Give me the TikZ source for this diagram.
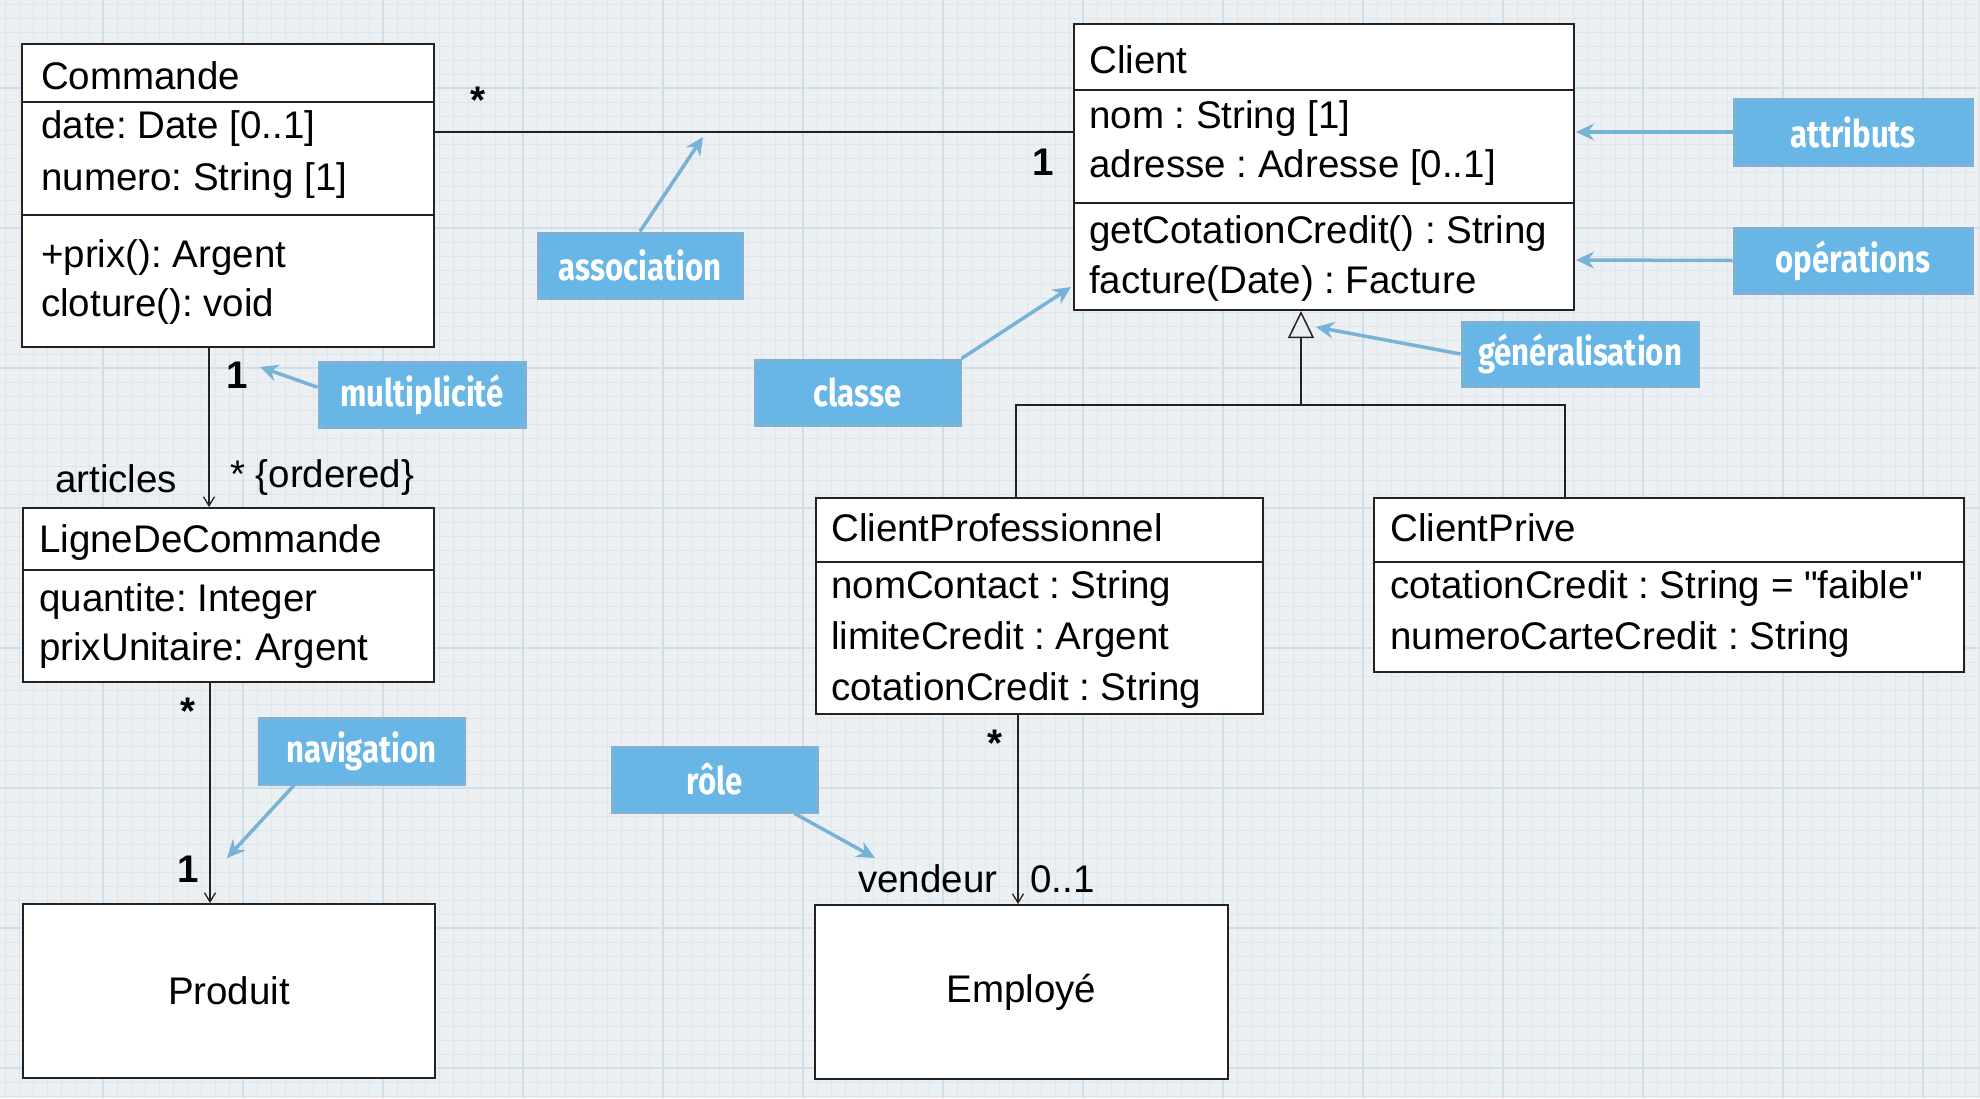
\documentclass[tikz,border=0pt]{standalone}
\usepackage{fontspec}
\usepackage{graphicx}
\newfontfamily\umlfont{Liberation Sans}
\newfontfamily\callfont{Fira Sans}
\usetikzlibrary{arrows.meta,calc}
\definecolor{paper}{HTML}{ECF0F3}
\definecolor{gridminor}{HTML}{DDE6EC}
\definecolor{gridmajor}{HTML}{CFDFE9}
\definecolor{callfill}{HTML}{68B6E6}
\definecolor{calldraw}{HTML}{7DB1D6}
\definecolor{callarrow}{HTML}{78B2D6}
\definecolor{ink}{HTML}{222222}
\newcommand\calltext[1]{\scalebox{0.82}[1]{#1}}
\newcommand\umlsize{\umlfont\fontsize{38.5}{46}\selectfont}
\tikzset{
  classbox/.style={draw=ink, line width=2pt, fill=white, rectangle, inner sep=0pt, anchor=north west,
    font=\umlsize},
  divider/.style={draw=ink, line width=2pt},
  txt/.style={anchor=base west, inner sep=0pt, font=\umlsize, text=black},
  mult/.style={anchor=base, inner sep=0pt, font=\umlsize, text=black},
  conn/.style={draw=ink, line width=1.5pt},
  navtip/.style={-{Straight Barb[length=9pt,width=11pt,line width=1.3pt]}},
  gentip/.style={-{Triangle[open,length=27pt,width=26pt,line width=1.5pt]}},
  callout/.style={rectangle, draw=calldraw, line width=3pt, fill=callfill, text=white, inner sep=0pt,
    font=\callfont\bfseries\fontsize{38}{40}\selectfont},
  carrow/.style={draw=callarrow, line width=3.5pt, -{Stealth[length=18pt,width=17pt,inset=6pt]}},
}
\begin{document}
\frenchspacing
\begin{tikzpicture}[x=1pt,y=-1pt]
\useasboundingbox (0,0) rectangle (1980,1098);
% paper background
\fill[paper] (0,0) rectangle (1980,1098);
\foreach \x in {5,19,...,1980} \draw[gridminor, line width=0.8pt] (\x,0) -- (\x,1098);
\foreach \y in {4,18,...,1098} \draw[gridminor, line width=0.8pt] (0,\y) -- (1980,\y);
\foreach \x in {103,243,...,1980} \draw[gridmajor, line width=1.6pt] (\x,0) -- (\x,1098);
\foreach \y in {88,228,...,1098} \draw[gridmajor, line width=1.6pt] (0,\y) -- (1980,\y);

% ---------- class boxes ----------
\node[classbox, minimum width=412pt, minimum height=303pt] (commande) at (21,43) {};
\draw[divider] ($(commande.north west)+(0,59)$) -- ($(commande.north east)+(0,59)$);
\draw[divider] ($(commande.north west)+(0,172)$) -- ($(commande.north east)+(0,172)$);
\node[txt] (c1) at (41,89) {Commande};
\node[txt] (c2) at (41,138) {date: Date [0..1]};
\node[txt] (c3) at (41,190) {numero: String [1]};
\node[txt] (c4) at (41,267) {+prix(): Argent};
\node[txt] (c5) at (41,316) {cloture(): void};

\node[classbox, minimum width=500pt, minimum height=286pt] (client) at (1073,23) {};
\draw[divider] ($(client.north west)+(0,67)$) -- ($(client.north east)+(0,67)$);
\draw[divider] ($(client.north west)+(0,180)$) -- ($(client.north east)+(0,180)$);
\node[txt] (k1) at (1089,73) {Client};
\node[txt] (k2) at (1089,128) {nom : String [1]};
\node[txt] (k3) at (1089,177) {adresse : Adresse [0..1]};
\node[txt] (k4) at (1089,243) {getCotationCredit() : String};
\node[txt] (k5) at (1089,293) {facture(Date) : Facture};

\node[classbox, minimum width=411pt, minimum height=174pt] (ligne) at (22,507) {};
\draw[divider] ($(ligne.north west)+(0,63)$) -- ($(ligne.north east)+(0,63)$);
\node[txt] (l1) at (39,552) {LigneDeCommande};
\node[txt] (l2) at (39,611) {quantite: Integer};
\node[txt] (l3) at (39,660) {prixUnitaire: Argent};

\node[classbox, minimum width=412pt, minimum height=174pt] (produit) at (22,903) {Produit};

\node[classbox, minimum width=447pt, minimum height=216pt] (cpro) at (815,497) {};
\draw[divider] ($(cpro.north west)+(0,65)$) -- ($(cpro.north east)+(0,65)$);
\node[txt] (p1) at (831,541) {ClientProfessionnel};
\node[txt] (p2) at (831,598) {nomContact : String};
\node[txt] (p3) at (831,649) {limiteCredit : Argent};
\node[txt] (p4) at (831,700) {cotationCredit : String};

\node[classbox, minimum width=590pt, minimum height=174pt] (cprive) at (1373,497) {};
\draw[divider] ($(cprive.north west)+(0,65)$) -- ($(cprive.north east)+(0,65)$);
\node[txt] (v1) at (1390,541) {ClientPrive};
\node[txt] (v2) at (1390,598) {cotationCredit : String = "faible"};
\node[txt] (v3) at (1390,649) {numeroCarteCredit : String};

\node[classbox, minimum width=413pt, minimum height=174pt] (employe) at (814,904) {Employé};

% ---------- connectors ----------
\coordinate (ay) at (0,132);
\draw[conn] (commande.east |- ay) -- (client.west |- ay);
\coordinate (xa) at (209,0);
\draw[conn,navtip] (commande.south -| xa) -- (ligne.north -| xa);
\coordinate (xb) at (210,0);
\draw[conn,navtip] (ligne.south -| xb) -- (produit.north -| xb);
\coordinate (xc) at (1018,0);
\draw[conn,navtip] (cpro.south -| xc) -- (employe.north -| xc);

\coordinate (gj) at (1301,405);
\coordinate (gl) at (1016,0);
\coordinate (gr) at (1565,0);
\draw[conn] (cpro.north -| gl) |- (gj) -| (cprive.north -| gr);
\draw[conn,gentip] (gj) -- (client.south -| gj);

% ---------- multiplicities and roles ----------
\node[mult, font=\umlsize\bfseries] (m1) at (478,113) {*};
\node[mult, font=\umlsize\bfseries] (m2) at (1043,175) {1};
\node[mult, font=\umlsize\bfseries] (m3) at (237,388) {1};
\node[txt] (r1) at (55,492) {articles};
\node[txt] (m4) at (230,487) {* \{ordered\}};
\node[mult, font=\umlsize\bfseries] (m5) at (188,724) {*};
\node[mult, font=\umlsize\bfseries] (m6) at (188,882) {1};
\node[mult, font=\umlsize\bfseries] (m7) at (995,756) {*};
\node[txt] (r2) at (858,892) {vendeur};
\node[txt] (m8) at (1030,892) {0..1};

% ---------- callouts ----------
\node[callout, minimum width=204pt, minimum height=65pt] (assoc) at (640,265.5) {\calltext{association}};
\node[callout, minimum width=205pt, minimum height=65pt] (classe) at (857.5,392.5) {\calltext{classe}};
\node[callout, minimum width=206pt, minimum height=65pt] (multi) at (422,394.5) {\calltext{multiplicité}};
\node[callout, minimum width=205pt, minimum height=66pt] (nav) at (361.5,751) {\calltext{navigation}};
\node[callout, minimum width=205pt, minimum height=65pt] (role) at (714.5,779.5) {\calltext{rôle}};
\node[callout, minimum width=238pt, minimum height=66pt] (attr) at (1853,132) {\calltext{attributs}};
\node[callout, minimum width=238pt, minimum height=65pt] (oper) at (1853,260.5) {\calltext{opérations}};
\node[callout, minimum width=236pt, minimum height=64pt] (gen) at (1580,354) {\calltext{généralisation}};

\coordinate (assocT) at (703,137);
\coordinate (classeT) at (1071,287);
\coordinate (multT) at (260,367);
\coordinate (navT) at (227,858);
\coordinate (roleT) at (875,858);
\coordinate (genT) at (1316,327);
\coordinate (attrT) at (1576,132);
\coordinate (operT) at (1576,260);

\draw[carrow] (assoc.north) -- (assocT);
\draw[carrow] (classe.north east) -- (classeT);
\draw[carrow] (multi.176) -- (multT);
\draw[carrow] (nav.207.5) -- (navT);
\draw[carrow] (role.337.5) -- (roleT);
\draw[carrow] (gen.west) -- (genT);
\draw[carrow] (attr.west) -- (attrT);
\draw[carrow] (oper.west) -- (operT);
\end{tikzpicture}
\end{document}
